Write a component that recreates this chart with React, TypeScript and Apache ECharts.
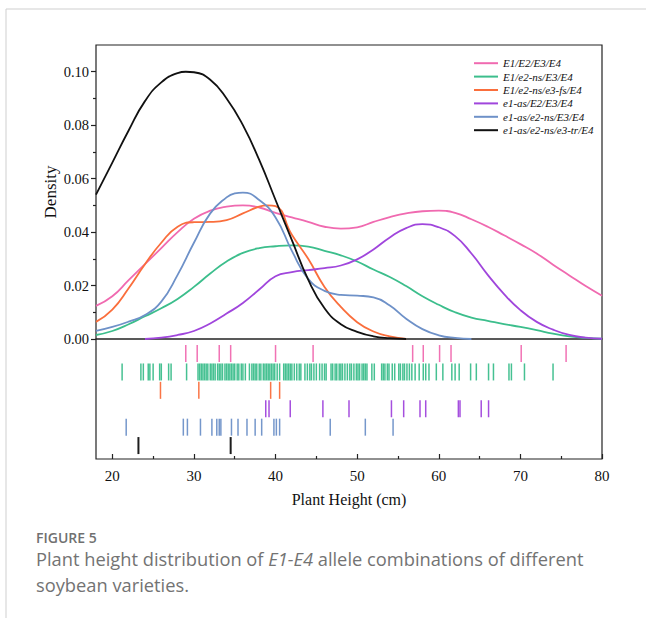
import React, { useEffect, useRef } from "react";
import * as echarts from "echarts";

const SERIES_NAMES = [
  "E1/E2/E3/E4",
  "E1/e2-ns/E3/E4",
  "E1/e2-ns/e3-fs/E4",
  "e1-as/E2/E3/E4",
  "e1-as/e2-ns/E3/E4",
  "e1-as/e2-ns/e3-tr/E4",
];
const COLORS = ["#f06ab0", "#3cbe8c", "#fa6e3c", "#a046dc", "#6e91c8", "#111111"];

const X_TICKS = [20, 30, 40, 50, 60, 70, 80];
const X_MINOR_TICKS = [25, 35, 45, 55, 65, 75];
const Y_TICKS = [0, 0.02, 0.04, 0.06, 0.08, 0.1];
const Y_MINOR_TICKS = [0.01, 0.03, 0.05, 0.07, 0.09];

// density curves: [plant height, density]
const pinkDensity = [
  [18, 0.0124], [20, 0.016], [22, 0.022], [24, 0.028], [26, 0.034], [28, 0.04], [30, 0.045],
  [32, 0.048], [34, 0.0495], [36, 0.05], [38, 0.0492], [40, 0.0472], [42, 0.0455], [44, 0.0438],
  [46, 0.042], [48, 0.0413], [50, 0.0418], [52, 0.0438], [54, 0.0456], [56, 0.047], [58, 0.0478],
  [60, 0.048], [62, 0.0472], [64, 0.0448], [66, 0.042], [68, 0.0388], [70, 0.0355], [72, 0.032],
  [74, 0.0278], [76, 0.0238], [78, 0.0198], [80, 0.0162],
];
const greenDensity = [
  [18, 0.0015], [20, 0.003], [22, 0.0055], [24, 0.0085], [26, 0.0115], [28, 0.015], [30, 0.0195],
  [32, 0.0245], [34, 0.029], [36, 0.0322], [38, 0.034], [40, 0.0347], [42, 0.035], [44, 0.0346],
  [46, 0.033], [48, 0.0313], [50, 0.029], [52, 0.026], [54, 0.0232], [56, 0.0198], [58, 0.016],
  [60, 0.0128], [62, 0.01], [64, 0.008], [66, 0.0068], [68, 0.0056], [70, 0.0045], [72, 0.0033],
  [74, 0.002], [76, 0.001], [78, 0.0004], [80, 0.0001],
];
const orangeDensity = [
  [18, 0.0064], [20, 0.011], [22, 0.019], [24, 0.028], [26, 0.036], [28, 0.042], [30, 0.0437],
  [32, 0.0438], [34, 0.0445], [36, 0.047], [38, 0.0495], [39, 0.05], [40, 0.0497], [42, 0.039],
  [44, 0.03], [46, 0.0195], [48, 0.012], [50, 0.0063], [52, 0.0028], [54, 0.001], [56, 0],
];
const purpleDensity = [
  [24, 0], [26, 0.0005], [28, 0.0015], [30, 0.003], [32, 0.0058], [34, 0.0095], [36, 0.0135],
  [38, 0.0185], [40, 0.0235], [42, 0.025], [44, 0.0258], [46, 0.0265], [48, 0.0275], [50, 0.0298],
  [52, 0.0335], [54, 0.038], [56, 0.0415], [58, 0.043], [60, 0.0418], [62, 0.0385], [64, 0.032],
  [66, 0.024], [68, 0.0168], [70, 0.0108], [72, 0.0064], [74, 0.0035], [76, 0.0015], [78, 0.0005],
  [80, 0.0001],
];
const blueDensity = [
  [18, 0.003], [20, 0.0045], [22, 0.0065], [24, 0.009], [26, 0.014], [28, 0.024], [30, 0.036],
  [32, 0.047], [34, 0.053], [35, 0.0545], [36, 0.0548], [38, 0.052], [40, 0.0455], [42, 0.033],
  [44, 0.0225], [46, 0.018], [48, 0.0165], [50, 0.0162], [52, 0.0156], [54, 0.0125], [56, 0.0076],
  [58, 0.0037], [60, 0.0014], [62, 0.0004], [64, 0],
];
const blackDensity = [
  [18, 0.054], [20, 0.066], [22, 0.078], [24, 0.089], [26, 0.096], [28, 0.0995], [29, 0.1],
  [30, 0.0998], [32, 0.097], [34, 0.09], [36, 0.08], [38, 0.067], [40, 0.052], [42, 0.037],
  [44, 0.0222], [46, 0.0115], [48, 0.0055], [50, 0.0027], [52, 0.001], [54, 0.0003], [56, 0],
];

// individual plant heights (rug ticks)
const pinkRug = [29.0, 30.4, 33.1, 34.5, 40.0, 44.6, 56.8, 58.1, 60.1, 61.5, 70.1, 75.6];
const greenRug = [
  21.2, 23.5, 23.8, 24.4, 24.6, 25.0, 25.8, 26.0, 26.9, 27.2, 29.1,
  30.5, 30.7, 30.9, 31.1, 31.3, 31.5, 31.7, 32.0, 32.2, 32.4, 32.6, 32.9, 33.1, 33.3, 33.5,
  33.8, 34.0, 34.2, 34.4, 34.6, 34.8, 35.0, 35.3, 35.5, 35.8, 36.0, 36.3, 36.8, 37.1,
  37.3, 37.5, 37.7, 38.0, 38.2, 38.5, 38.7, 38.9, 39.1, 39.3, 39.5, 39.7, 39.9, 40.2, 40.5,
  41.0, 41.2, 41.4, 41.6, 41.8, 42.0, 42.3, 42.6, 42.9, 43.1, 43.6, 43.9, 44.2, 44.4, 44.7,
  45.0, 45.4, 45.7, 46.0, 46.2, 46.8, 47.0, 47.3, 47.5, 47.8, 48.0, 48.2, 48.5, 48.8, 49.1,
  49.3, 49.6, 49.9, 50.1, 50.3, 50.6, 50.8, 51.0, 51.2, 51.8, 52.1, 53.0, 53.2, 53.4, 53.7,
  53.9, 54.3, 54.6, 55.1, 55.3, 55.6, 55.8, 56.1, 56.4, 56.7, 57.1, 57.6, 58.1, 58.4, 58.8,
  59.7, 60.5, 61.6, 62.0, 62.5, 63.9, 64.6, 66.1, 66.7, 68.6, 68.9, 70.5, 74.0,
];
const orangeRug = [25.9, 30.6, 39.4, 40.5];
const purpleRug = [38.8, 39.2, 41.8, 45.8, 49.0, 54.2, 55.7, 57.7, 58.4, 62.4, 62.6, 65.2, 66.1];
const blueRug = [
  21.7, 28.7, 29.2, 30.8, 32.2, 32.8, 33.1, 33.3, 34.6, 35.4, 36.5, 37.5, 38.3, 39.8, 40.1,
  40.5, 46.7, 51.0, 54.4,
];
const blackRug = [23.2, 34.5];

const DENSITIES = [pinkDensity, greenDensity, orangeDensity, purpleDensity, blueDensity, blackDensity];
const RUGS = [pinkRug, greenRug, orangeRug, purpleRug, blueRug, blackRug];

const SERIF = "'Liberation Serif', 'Times New Roman', serif";
const SANS = "'Open Sans', sans-serif";

export default function App() {
  const ref = useRef<HTMLDivElement>(null);

  useEffect(() => {
    document.body.style.margin = "0";
    if (!ref.current) return;
    const chart = echarts.init(ref.current, null, { renderer: "svg" });

    const lineSeries = SERIES_NAMES.map((name, i) => ({
      name,
      type: "line",
      xAxisIndex: 0,
      yAxisIndex: 0,
      data: DENSITIES[i],
      smooth: true,
      symbol: "none",
      lineStyle: { color: COLORS[i], width: 1.8 },
      itemStyle: { color: COLORS[i] },
      z: 3,
    }));

    const rugSeries = RUGS.map((values, i) => ({
      name: "rug" + i,
      type: "scatter",
      xAxisIndex: 1,
      yAxisIndex: 2,
      data: values.map((v) => [v, i]),
      symbol: "rect",
      symbolSize: [i === 5 ? 2 : 1.5, 17],
      itemStyle: { color: COLORS[i], opacity: 0.95 },
      silent: true,
    }));

    const option = {
      animation: false,
      textStyle: { fontFamily: SERIF },
      legend: {
        data: SERIES_NAMES,
        orient: "vertical",
        left: 469,
        top: 51.5,
        icon: "rect",
        itemWidth: 24,
        itemHeight: 2,
        itemGap: 0,
        textStyle: { fontFamily: SERIF, fontStyle: "italic", fontSize: 11, lineHeight: 13.4, color: "#111" },
      },
      grid: [
        { left: 96, top: 45, width: 506, height: 294, show: true, borderColor: "#222", borderWidth: 1.2, backgroundColor: "transparent" },
        { left: 96, top: 339, width: 506, height: 120, show: true, borderColor: "#222", borderWidth: 1.2, backgroundColor: "transparent" },
      ],
      xAxis: [
        {
          gridIndex: 0, type: "value", min: 18, max: 80,
          axisLine: { show: false, onZero: false }, axisTick: { show: false }, axisLabel: { show: false }, splitLine: { show: false },
        },
        {
          gridIndex: 1, type: "value", min: 18, max: 80, position: "bottom",
          name: "Plant Height (cm)", nameLocation: "middle", nameGap: 32, nameMoveOverlap: false,
          nameTextStyle: { fontFamily: SERIF, fontSize: 16, color: "#111" },
          axisLine: { show: false, onZero: false },
          axisTick: { show: true, inside: true, length: 5, customValues: X_TICKS, lineStyle: { color: "#222", width: 1.2 } },
          axisLabel: { show: true, customValues: X_TICKS, margin: 9, fontFamily: SERIF, fontSize: 15, color: "#111" },
          splitLine: { show: false },
        },
        {
          gridIndex: 1, type: "value", min: 18, max: 80, position: "bottom",
          axisLine: { show: false, onZero: false },
          axisTick: { show: true, inside: true, length: 3, customValues: X_MINOR_TICKS, lineStyle: { color: "#222", width: 1.2 } },
          axisLabel: { show: false },
          splitLine: { show: false },
        },
      ],
      yAxis: [
        {
          gridIndex: 0, type: "value", min: 0, max: 0.11, position: "left",
          name: "Density", nameLocation: "middle", nameGap: 37, nameMoveOverlap: false,
          nameTextStyle: { fontFamily: SERIF, fontSize: 17, color: "#111" },
          axisLine: { show: false, onZero: false },
          axisTick: { show: true, inside: false, length: 5, customValues: Y_TICKS, lineStyle: { color: "#222", width: 1.2 } },
          axisLabel: {
            show: true, customValues: Y_TICKS, margin: 7, fontFamily: SERIF, fontSize: 14.5, color: "#111",
            formatter: (v: number) => v.toFixed(2),
          },
          splitLine: { show: false },
        },
        {
          gridIndex: 0, type: "value", min: 0, max: 0.11, position: "left",
          axisLine: { show: false, onZero: false },
          axisTick: { show: true, inside: false, length: 3, customValues: Y_MINOR_TICKS, lineStyle: { color: "#222", width: 1.2 } },
          axisLabel: { show: false },
          splitLine: { show: false },
        },
        {
          gridIndex: 1, type: "value", min: -0.79, max: 5.73, inverse: true,
          show: false,
        },
      ],
      graphic: [
        { type: "line", shape: { x1: 6, y1: 9, x2: 646, y2: 9 }, style: { stroke: "#cfcfcf", lineWidth: 1 }, silent: true },
        { type: "line", shape: { x1: 6, y1: 9, x2: 6, y2: 618 }, style: { stroke: "#cfcfcf", lineWidth: 1 }, silent: true },
        {
          type: "text", left: 36, top: 530,
          style: { text: "FIGURE 5", fontFamily: SANS, fontSize: 14, lineHeight: 15, fontWeight: 600, fill: "#707070" },
        },
        {
          type: "text", left: 36, top: 547,
          style: {
            text: "Plant height distribution of {i|E1-E4} allele combinations of different",
            fontFamily: SANS, fontSize: 18.3, lineHeight: 22, fill: "#737373",
            rich: { i: { fontStyle: "italic", fontFamily: SANS, fontSize: 18.3, lineHeight: 22, fill: "#737373", color: "#737373" } },
          },
        },
        {
          type: "text", left: 36, top: 573,
          style: { text: "soybean varieties.", fontFamily: SANS, fontSize: 18.3, lineHeight: 22, fill: "#737373" },
        },
      ],
      series: [...lineSeries, ...rugSeries],
    };

    chart.setOption(option as any);
    return () => chart.dispose();
  }, []);

  return <div ref={ref} style={{ width: 646, height: 618 }} />;
}
